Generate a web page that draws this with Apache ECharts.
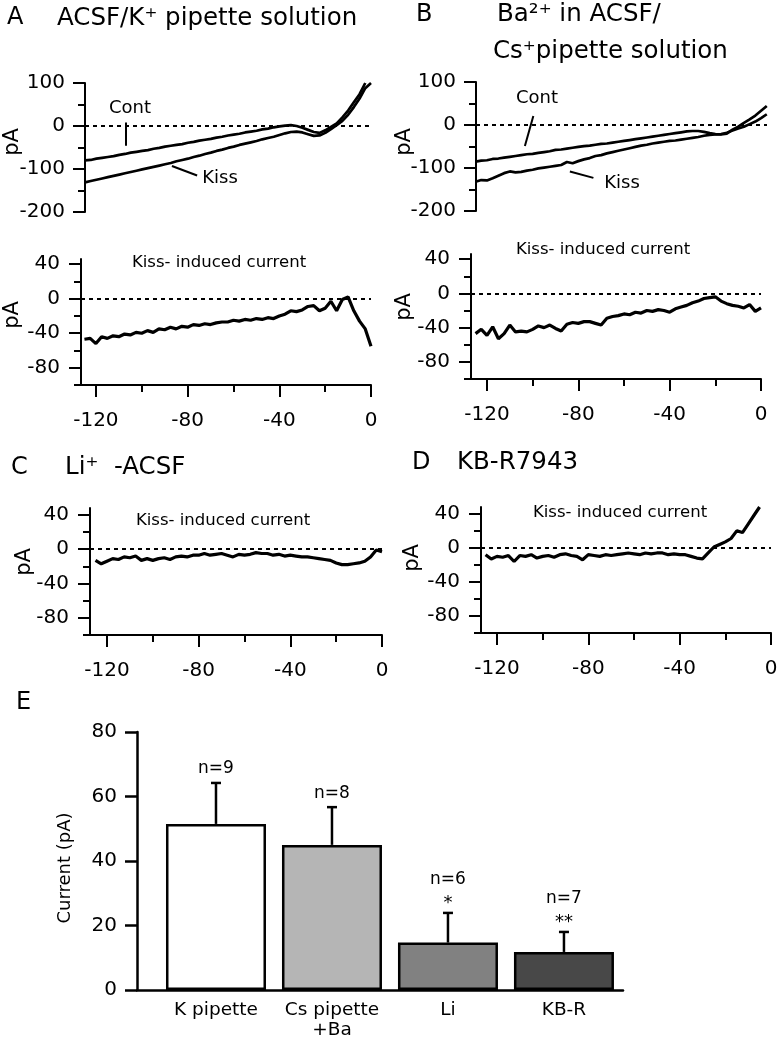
<!DOCTYPE html>
<html>
<head>
<meta charset="utf-8">
<script src="https://cdn.jsdelivr.net/npm/echarts@6/dist/echarts.min.js"></script>
<style>
html,body{margin:0;padding:0;background:#fff;}
#main{width:778px;height:1050px;}
</style>
</head>
<body>
<div id="main"></div>
<script>
// membrane potential (mV)
var volts = [-125,-122.5,-120,-117.5,-115,-112.5,-110,-107.5,-105,-102.5,-100,-97.5,-95,-92.5,-90,-87.5,-85,-82.5,-80,-77.5,-75,-72.5,-70,-67.5,-65,-62.5,-60,-57.5,-55,-52.5,-50,-47.5,-45,-42.5,-40,-37.5,-35,-32.5,-30,-27.5,-25,-22.5,-20,-17.5,-15,-12.5,-10,-7.5,-5,-2.5,0];
var voltsB = [-125,-122.5,-120,-117.5,-115,-112.5,-110,-107.5,-105,-102.5,-100,-97.5,-95,-92.5,-90,-87.5,-85,-82.5,-80,-77.5,-75,-72.5,-70,-67.5,-65,-62.5,-60,-57.5,-55,-52.5,-50,-47.5,-45,-42.5,-40,-37.5,-35,-32.5,-30,-27.5,-25,-22.5,-20,-17.5,-15,-12.5,-10,-7.5,-5,-2.5,0,2.5];

// A: ACSF / K+ pipette (pA)
var contA = [-80,-79,-76,-74,-72,-70,-67,-65,-62,-60,-58,-56,-53,-51,-48,-46,-44,-42,-39,-37,-34,-32,-30,-27,-25,-22,-20,-18,-15,-13,-11,-8,-6,-3,-1,1,2,0,-4,-9,-14,-16,-10,-2,6,20,36,55,74,100,null];
var kissA = [-131,-128,-125,-122,-119,-116,-113,-110,-107,-104,-101,-98,-95,-92,-89,-86,-82,-79,-76,-72,-69,-65,-62,-58,-55,-51,-48,-44,-41,-38,-35,-31,-28,-25,-21,-17,-14,-13,-15,-19,-23,-22,-16,-7,2,12,26,44,64,88,100];
var diffA = [-47,-46,-52,-44,-46,-43,-44,-41,-42,-39,-40,-37,-39,-35,-36,-33,-35,-32,-33,-30,-31,-29,-30,-28,-27,-27,-25,-26,-24,-25,-23,-24,-22,-23,-20,-18,-14,-15,-13,-9,-8,-14,-11,-3,-14,-1,2,-14,-26,-35,-55];

// B: Ba2+ in ACSF / Cs+ pipette (pA)
var contB = [-85,-83,-82,-79,-78,-76,-74,-72,-70,-68,-67,-65,-63,-61,-58,-57,-55,-53,-51,-49,-48,-46,-44,-43,-41,-39,-37,-35,-33,-31,-29,-27,-25,-23,-21,-19,-17,-15,-14,-14,-16,-19,-21,-22,-20,-11,-4,5,13,22,33,44];
var kissB = [-132,-128,-129,-124,-118,-112,-108,-110,-109,-106,-104,-101,-99,-97,-95,-93,-86,-89,-84,-80,-77,-72,-70,-66,-63,-60,-57,-54,-51,-48,-46,-43,-41,-39,-37,-36,-34,-32,-30,-28,-25,-23,-22,-21,-18,-13,-8,-4,2,8,16,25];
var diffB = [-47,-42,-49,-39,-53,-47,-37,-45,-44,-45,-42,-38,-40,-37,-41,-44,-36,-34,-35,-33,-33,-35,-37,-29,-27,-26,-24,-25,-22,-23,-20,-21,-19,-20,-22,-18,-16,-14,-11,-9,-6,-5,-4,-9,-12,-14,-15,-17,-13,-21,-17];

// C: Li+ ACSF, D: KB-R7943 (pA)
var diffC = [-13,-17,-14,-11,-12,-9,-10,-8,-13,-11,-13,-11,-10,-12,-9,-8,-9,-7,-7,-5,-7,-6,-5,-7,-9,-6,-7,-6,-4,-5,-5,-7,-6,-8,-7,-8,-9,-9,-10,-11,-12,-13,-16,-18,-18,-17,-16,-14,-9,-1,-3];
var diffD = [-8,-13,-10,-11,-9,-16,-9,-10,-8,-12,-10,-9,-11,-8,-7,-9,-10,-14,-8,-9,-10,-8,-9,-8,-7,-6,-7,-8,-6,-7,-6,-6,-8,-7,-8,-8,-10,-12,-13,-6,1,4,7,11,20,18,28,38,48,null,null];

// tick labels
var vMajor = [-120,-80,-40,0];
var vMinor = [-100,-60,-20];
var iMajor = [-80,-40,0,40];
var iMinor = [-100,-60,-20,20];

// E: summary bars
var barNames = ['K pipette','Cs pipette\n+Ba','Li','KB-R'];
var barMeans = [51.5,45,14.7,11.8];
var barSem = [12.7,11.7,9.2,6.2];
var barN = ['n=9','n=8','n=6','n=7'];
var barStars = ['','','*','**'];
var barColors = ['#ffffff','#b5b5b5','#818181','#484848'];

var FONT = '"DejaVu Sans", sans-serif';

function pairs(xs, ys){
    var out = [];
    for (var i = 0; i < xs.length; i++) {
        if (ys[i] !== null && ys[i] !== undefined) out.push([xs[i], ys[i]]);
    }
    return out;
}

var grids = [
    {left:85, top:83, width:286, height:129},   // A top
    {left:81, top:259, width:290, height:126},  // A bottom
    {left:476, top:82, width:291, height:129},  // B top
    {left:471, top:254, width:290, height:125}, // B bottom
    {left:90, top:508, width:292, height:127},  // C
    {left:481, top:507, width:290, height:126}, // D
    {left:137, top:732, width:486, height:258}  // E
];
grids.forEach(function(g){ g.outerBoundsMode = 'none'; g.containLabel = false; });

var blackLine = {color:'#000', width:2};
var xAxes = [], yAxes = [], series = [];

function topPanel(gi, xmin, xmax){
    xAxes.push({type:'value', gridIndex:gi, min:xmin, max:xmax, show:false});
    yAxes.push({
        type:'value', gridIndex:gi, min:-200, max:100, interval:100, position:'left',
        axisLine:{show:true, onZero:false, lineStyle:blackLine},
        axisTick:{show:true, length:12, lineStyle:blackLine},
        minorTick:{show:true, splitNumber:2, length:7, lineStyle:blackLine},
        axisLabel:{margin:20, fontSize:20, color:'#000', fontFamily:FONT},
        splitLine:{show:false}
    });
    return [xAxes.length - 1, yAxes.length - 1];
}

function tracePanel(gi, xmin, xmax, ymax){
    xAxes.push({
        type:'value', gridIndex:gi, min:xmin, max:xmax, position:'bottom',
        axisLine:{show:true, onZero:false, lineStyle:blackLine},
        axisTick:{show:true, customValues:vMajor, length:12, lineStyle:blackLine},
        axisLabel:{customValues:vMajor, margin:26, fontSize:20, color:'#000', fontFamily:FONT},
        splitLine:{show:false}
    });
    var xi = xAxes.length - 1;
    xAxes.push({
        type:'value', gridIndex:gi, min:xmin, max:xmax, position:'bottom',
        axisLine:{show:false, onZero:false},
        axisTick:{show:true, customValues:vMinor, length:7, lineStyle:blackLine},
        axisLabel:{show:false}, splitLine:{show:false}
    });
    yAxes.push({
        type:'value', gridIndex:gi, min:-100, max:ymax, position:'left',
        axisLine:{show:true, onZero:false, lineStyle:blackLine},
        axisTick:{show:true, customValues:iMajor, length:12, lineStyle:blackLine},
        axisLabel:{customValues:iMajor, margin:21, fontSize:20, color:'#000', fontFamily:FONT},
        splitLine:{show:false}
    });
    var yi = yAxes.length - 1;
    yAxes.push({
        type:'value', gridIndex:gi, min:-100, max:ymax, position:'left',
        axisLine:{show:false, onZero:false},
        axisTick:{show:true, customValues:iMinor, length:7, lineStyle:blackLine},
        axisLabel:{show:false}, splitLine:{show:false}
    });
    return [xi, yi];
}

var zeroLine = {
    symbol:['none','none'], silent:true, animation:false,
    label:{show:false},
    lineStyle:{type:[4,4], color:'#000', width:2},
    data:[{yAxis:0}]
};

function trace(ax, xs, ys, w, extra){
    var s = {
        type:'line', xAxisIndex:ax[0], yAxisIndex:ax[1],
        data:pairs(xs, ys), showSymbol:false, symbol:'none',
        lineStyle:{color:'#000', width:w}, clip:true, animation:false, silent:true
    };
    if (extra) s.markLine = extra;
    return s;
}

function pointers(list){
    return {
        symbol:['none','none'], silent:true, animation:false, label:{show:false},
        lineStyle:{type:'solid', color:'#000', width:2},
        data:list.map(function(p){ return [{coord:[p[0],p[1]]},{coord:[p[2],p[3]]}]; })
    };
}

// panel A
var aTop = topPanel(0, -125, 0);
series.push(trace(aTop, volts, contA, 2.7, zeroLine));
series.push(trace(aTop, volts, kissA, 2.7, pointers([[-107,8,-107,-46],[-87,-93,-76,-115]])));
var aBot = tracePanel(1, -126.5, 0, 46);
series.push(trace(aBot, volts, diffA, 3.2, zeroLine));

// panel B
var bTop = topPanel(2, -124.8, 2.6);
series.push(trace(bTop, voltsB, contB, 2.7, zeroLine));
series.push(trace(bTop, voltsB, kissB, 2.7, pointers([[-99.7,21,-103.4,-49],[-83.7,-108,-73.4,-123]])));
var bBot = tracePanel(3, -127, 0, 46);
series.push(trace(bBot, volts, diffB, 3.2, zeroLine));

// panel C, D
var cAx = tracePanel(4, -127.4, 0, 48);
series.push(trace(cAx, volts, diffC, 3.2, zeroLine));
var dAx = tracePanel(5, -127, 0, 48);
series.push(trace(dAx, volts, diffD, 3.2, zeroLine));

// panel E
xAxes.push({
    type:'value', gridIndex:6, min:-0.681, max:3.509, position:'bottom',
    axisLine:{show:true, onZero:false, lineStyle:{color:'#000', width:2.5}},
    axisTick:{show:false},
    axisLabel:{customValues:[0,1,2,3], margin:10, fontSize:18.5, lineHeight:20, color:'#000', fontFamily:FONT,
        formatter:function(v){ return barNames[Math.round(v)]; }},
    splitLine:{show:false}
});
var eX = xAxes.length - 1;
yAxes.push({
    type:'value', gridIndex:6, min:0, max:80, interval:20, position:'left',
    axisLine:{show:true, onZero:false, lineStyle:{color:'#000', width:2.5}},
    axisTick:{show:true, length:12, lineStyle:{color:'#000', width:2.5}},
    axisLabel:{margin:20, fontSize:20, color:'#000', fontFamily:FONT},
    splitLine:{show:false}
});
var eY = yAxes.length - 1;

series.push({
    type:'bar', xAxisIndex:eX, yAxisIndex:eY, barWidth:100, animation:false, silent:true,
    data:barMeans.map(function(v, i){
        return {value:[i, v], itemStyle:{color:barColors[i], borderColor:'#000', borderWidth:2.5}};
    })
});
series.push({
    type:'custom', xAxisIndex:eX, yAxisIndex:eY, animation:false, silent:true, z:5,
    data:barMeans.map(function(v, i){ return [i, v, barSem[i]]; }),
    renderItem:function(params, api){
        var i = params.dataIndex;
        var x = api.value(0), m = api.value(1), e = api.value(2);
        var base = api.coord([x, m]);
        var top = api.coord([x, m + e]);
        var st = {stroke:'#000', lineWidth:2.5};
        var kids = [
            {type:'line', shape:{x1:base[0], y1:base[1], x2:top[0], y2:top[1]}, style:st},
            {type:'line', shape:{x1:top[0] - 5, y1:top[1], x2:top[0] + 5, y2:top[1]}, style:st}
        ];
        var starred = !!barStars[i];
        if (starred) {
            kids.push({type:'text', x:top[0], y:top[1] - 10,
                style:{text:barStars[i], font:'18px ' + FONT, fill:'#000', textAlign:'center', textVerticalAlign:'middle'}});
        }
        kids.push({type:'text', x:top[0], y:top[1] - (starred ? 33 : 14),
            style:{text:barN[i], font:'17px ' + FONT, fill:'#000', textAlign:'center', textVerticalAlign:'middle'}});
        return {type:'group', children:kids};
    }
});

// titles and annotation text
function txt(x, y, s, size, align, rot){
    return {type:'text', x:x, y:y, rotation:rot || 0, silent:true,
        style:{text:s, font:size + 'px ' + FONT, fill:'#000', textAlign:align || 'left', textVerticalAlign:'middle'}};
}
var graphics = [
    txt(7, 18, 'A', 24), txt(57, 19, 'ACSF/K⁺ pipette solution', 24.5),
    txt(416, 15, 'B', 24), txt(497, 15, 'Ba²⁺ in ACSF/', 24.5), txt(493, 52, 'Cs⁺pipette solution', 24.5),
    txt(11, 468, 'C', 24), txt(65, 468, 'Li⁺  -ACSF', 24.5),
    txt(412, 463, 'D', 24), txt(457, 463, 'KB-R7943', 24.5),
    txt(16, 703, 'E', 24),
    txt(130, 108, 'Cont', 18, 'center'), txt(220, 178, 'Kiss', 18, 'center'),
    txt(537, 98, 'Cont', 18, 'center'), txt(622, 183, 'Kiss', 18, 'center'),
    txt(219, 263, 'Kiss- induced current', 16.5, 'center'),
    txt(603, 250, 'Kiss- induced current', 16.5, 'center'),
    txt(223, 521, 'Kiss- induced current', 16.5, 'center'),
    txt(620, 513, 'Kiss- induced current', 16.5, 'center'),
    txt(13, 142, 'pA', 21, 'center', Math.PI / 2),
    txt(13, 315, 'pA', 21, 'center', Math.PI / 2),
    txt(405, 142, 'pA', 21, 'center', Math.PI / 2),
    txt(405, 307, 'pA', 21, 'center', Math.PI / 2),
    txt(25, 562, 'pA', 21, 'center', Math.PI / 2),
    txt(413, 558, 'pA', 21, 'center', Math.PI / 2),
    txt(65, 868, 'Current (pA)', 18, 'center', Math.PI / 2)
];

var chart = echarts.init(document.getElementById('main'), null, {renderer:'canvas'});
chart.setOption({
    backgroundColor:'#ffffff',
    animation:false,
    grid:grids,
    xAxis:xAxes,
    yAxis:yAxes,
    series:series,
    graphic:graphics
});
window.onresize = function(){ chart.resize(); };
</script>
</body>
</html>
